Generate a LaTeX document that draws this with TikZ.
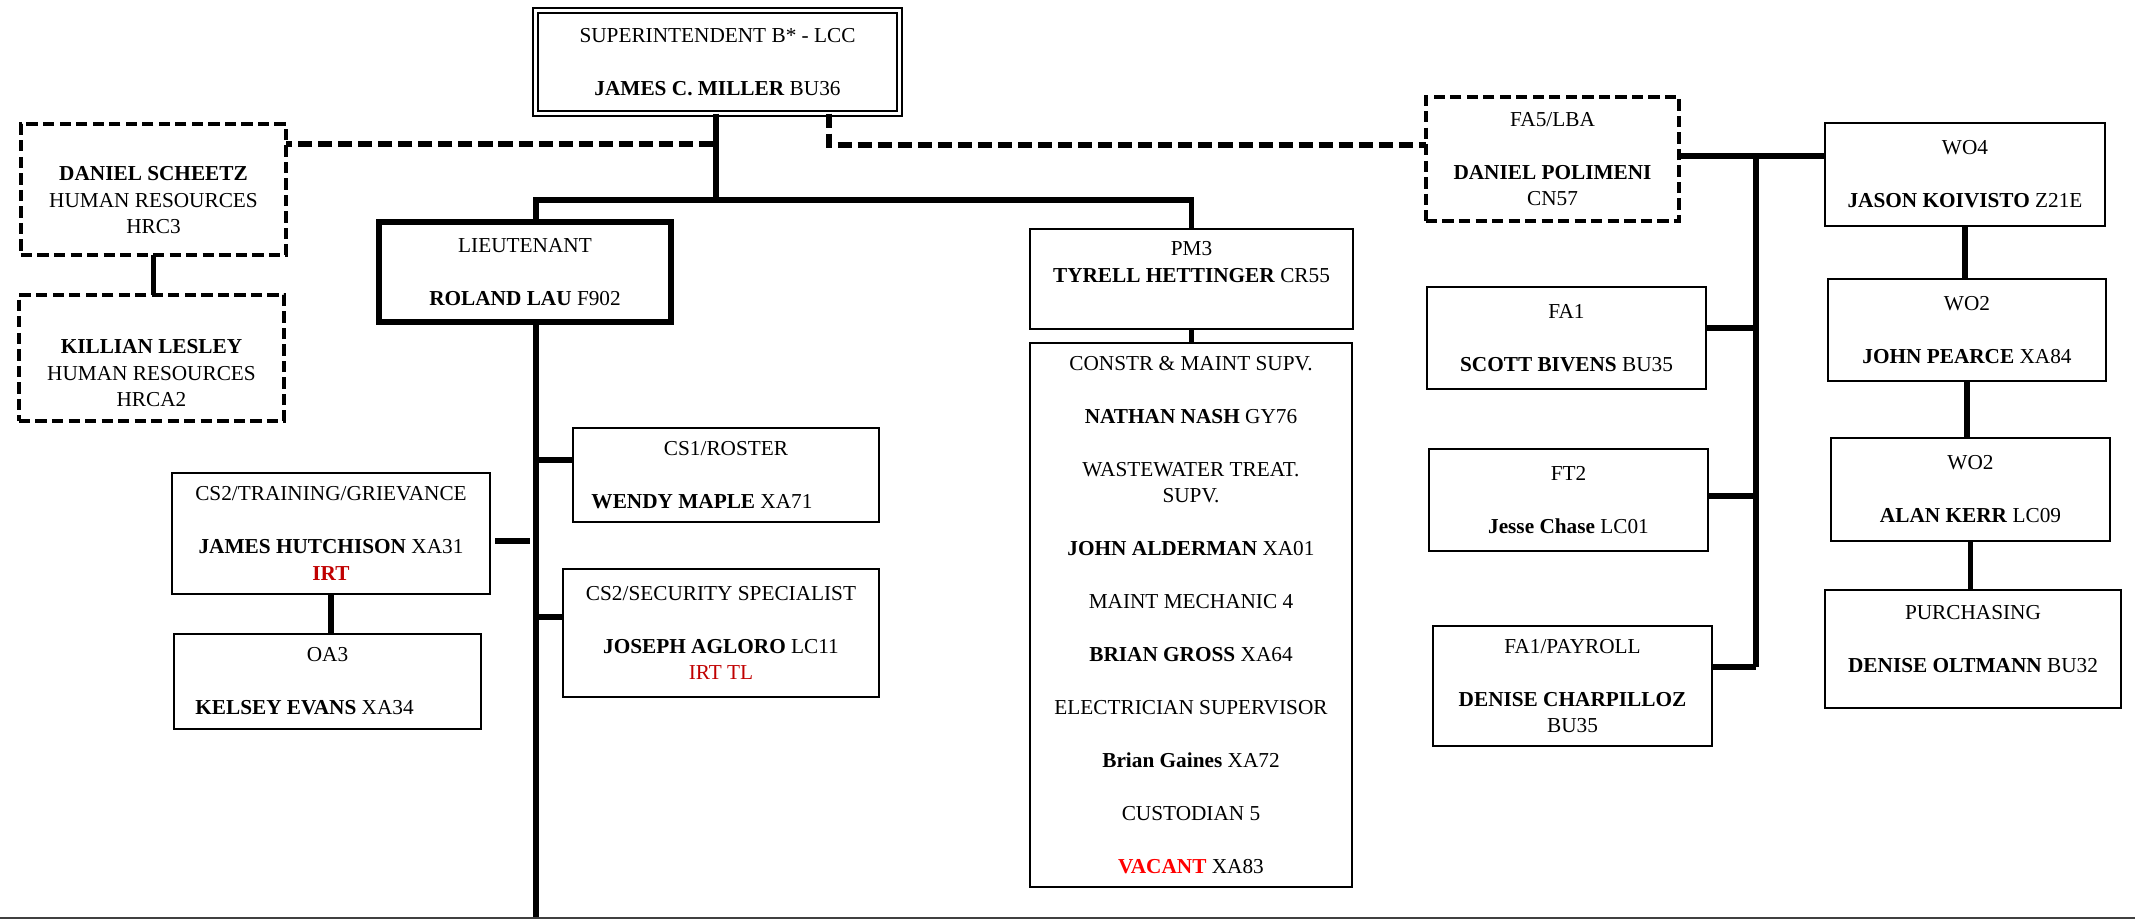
\documentclass[tikz,border=0pt]{standalone}
\usepackage{fontspec}
\setmainfont{Liberation Serif}
\definecolor{irtred}{HTML}{C00000}
\definecolor{vacred}{HTML}{FF0000}
\begin{document}
\begin{tikzpicture}[x=0.01cm, y=-0.01cm, font=\fontsize{6.05}{7.54}\selectfont,
	box/.style={draw, line width=0.6pt, align=center, inner sep=0pt, outer sep=0pt},
	dbox/.style={box, line width=1.1pt, dash pattern=on 3.2pt off 1.5pt},
	sz/.style 2 args={minimum width=#1cm, minimum height=#2cm},
	link/.style={line width=1.45pt},
	dlink/.style={line width=1.45pt, dash pattern=on 4pt off 1.7pt}]
		\def\gap{\\[7.54pt]}
		\useasboundingbox (0,0) rectangle (2135,919);
		\node[box, double, double distance=1pt, line width=0.5pt, sz={3.64}{1.03}] (sup) at (717.5,62) {SUPERINTENDENT B* - LCC\gap\textbf{JAMES C. MILLER} BU36};
		\node[dbox, sz={2.65}{1.31}] (scheetz) at (153.5,189.5) {\strut\\\textbf{DANIEL SCHEETZ}\\HUMAN RESOURCES\\HRC3\\[-7pt]\strut};
		\node[dbox, sz={2.65}{1.26}] (lesley) at (151.5,358) {\strut\\\textbf{KILLIAN LESLEY}\\HUMAN RESOURCES\\HRCA2};
		\node[box, line width=1.7pt, sz={2.92}{1.00}] (lieut) at (525,272) {LIEUTENANT\gap\textbf{ROLAND LAU} F902};
		\node[box, sz={3.06}{0.94}] (roster) at (726,475) {CS1/ROSTER\gap\textbf{WENDY MAPLE} XA71\hspace*{.48cm}};
		\node[box, sz={3.18}{1.21}] (train) at (331,533.5) {CS2/TRAINING/GRIEVANCE\gap\textbf{JAMES HUTCHISON} XA31\\\textcolor{irtred}{\textbf{IRT}}};
		\node[box, sz={3.07}{0.95}] (oa3) at (327.5,681.5) {OA3\gap\textbf{KELSEY EVANS} XA34\hspace*{.46cm}};
		\node[box, sz={3.16}{1.28}] (secur) at (721,633) {CS2/SECURITY SPECIALIST\gap\textbf{JOSEPH AGLORO} LC11\\\textcolor{irtred}{IRT TL}};
		\node[box, sz={3.23}{1.00}] (pm3) at (1191.5,279) {PM3\\\textbf{TYRELL HETTINGER} CR55\\\strut};
		\node[box, sz={3.22}{5.44}] (crew) at (1191,615) {CONSTR \& MAINT SUPV.\gap\textbf{NATHAN NASH} GY76\gap WASTEWATER TREAT.\\SUPV.\gap\textbf{JOHN ALDERMAN} XA01\gap MAINT MECHANIC 4\gap\textbf{BRIAN GROSS} XA64\gap ELECTRICIAN SUPERVISOR\gap\textbf{Brian Gaines} XA72\gap CUSTODIAN 5\gap\textcolor{vacred}{\textbf{VACANT}} XA83};
		\node[dbox, sz={2.53}{1.24}] (fa5) at (1552.5,159) {FA5/LBA\gap\textbf{DANIEL POLIMENI}\\CN57};
		\node[box, sz={2.79}{1.02}] (fa1) at (1566.5,338) {FA1\gap\textbf{SCOTT BIVENS} BU35};
		\node[box, sz={2.79}{1.02}] (ft2) at (1568.5,500) {FT2\gap\textbf{Jesse Chase} LC01};
		\node[box, sz={2.79}{1.20}] (pay) at (1572.5,686) {FA1/PAYROLL\gap\textbf{DENISE CHARPILLOZ}\\BU35};
		\node[box, sz={2.80}{1.03}] (wo4) at (1965,174.5) {WO4\gap\textbf{JASON KOIVISTO} Z21E};
		\node[box, sz={2.78}{1.02}] (pearce) at (1967,330) {WO2\gap\textbf{JOHN PEARCE} XA84};
		\node[box, sz={2.79}{1.03}] (kerr) at (1970.5,489.5) {WO2\gap\textbf{ALAN KERR} LC09};
		\node[box, sz={2.96}{1.18}] (purch) at (1973,649) {PURCHASING\gap\textbf{DENISE OLTMANN} BU32\\[-4pt]\strut};
		\coordinate (bar) at (716,200);
		\coordinate (trunk) at (536,919);
		\coordinate (hrl) at (713,144);
		\coordinate (lba) at (829,145);
		\coordinate (bus) at (1756,156);
		\draw[link] (sup.south -| bar) -- (bar);
		\draw[link] (lieut.north -| trunk) |- (bar) -| (pm3.north);
		\draw[link] (lieut.south -| trunk) -- (trunk);
		\foreach \n/\s in {roster/.15, secur/.16} \draw[link] ([yshift=\s cm]\n.west) -- ([yshift=\s cm]\n.west -| trunk);
		\draw[link] ([xshift=.05cm, yshift=-.075cm]train.east) -- ([xshift=-.06cm, yshift=-.075cm]train.east -| trunk);
		\foreach \a/\b in {scheetz/lesley, train/oa3, pm3/crew, wo4/pearce, pearce/kerr, kerr/purch} \draw[link] (\a.south) -- (\a.south |- \b.north);
		\draw[dlink] (hrl) -- (hrl -| scheetz.east);
		\draw[dlink] (sup.south -| lba) -- (lba) -- (lba -| fa5.west);
		\draw[link] ([yshift=.03cm]fa5.east) -- ([yshift=.03cm]fa5.east -| wo4.west);
		\draw[link] (bus) -- ([yshift=.19cm]pay.east -| bus);
		\foreach \n/\s in {fa1/.1, ft2/.04, pay/.19} \draw[link] ([yshift=\s cm]\n.east) -- ([yshift=\s cm]\n.east -| bus);
		\draw[line width=.4pt, black!75] (0,918) -- (2135,918);
\end{tikzpicture}
\end{document}
